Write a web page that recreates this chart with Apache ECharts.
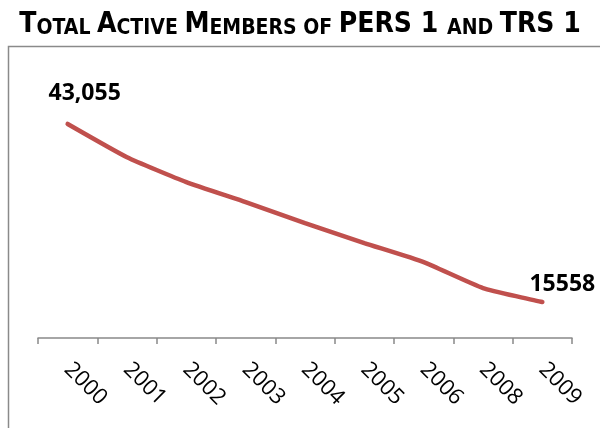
<!DOCTYPE html>
<html>
<head>
<meta charset="utf-8">
<script src="https://cdn.jsdelivr.net/npm/echarts@6/dist/echarts.min.js"></script>
<style>html,body{margin:0;padding:0;background:#fff}#c{width:600px;height:428px}</style>
</head>
<body>
<div id="c"></div>
<script>
var years = ['2000','2001','2002','2003','2004','2005','2006','2008','2009'];
var members = [43055, 37920, 34070, 30980, 27740, 24660, 21730, 17720, 15558];
var labelTexts = ['43,055', '15558'];

var chart = echarts.init(document.getElementById('c'));
var seriesData = members.map(function (v, i) {
  if (i === 0) {
    return {value: v, label: {show: true, formatter: labelTexts[0], offset: [17, -31]}};
  }
  if (i === members.length - 1) {
    return {value: v, label: {show: true, formatter: labelTexts[1], offset: [20, -18]}};
  }
  return v;
});

chart.setOption({
  animation: false,
  title: {
    left: 'center',
    top: 6,
    text: '{a|T}{b|OTAL }{a|A}{b|CTIVE }{a|M}{b|EMBERS OF }{a|PERS 1 }{b|AND }{a|TRS 1}',
    textStyle: {
      rich: {
        a: {fontFamily: '"Liberation Sans Narrow", "DejaVu Sans Condensed", sans-serif', fontWeight: 'bold', fontSize: 28, color: '#000', verticalAlign: 'bottom'},
        b: {fontFamily: '"Liberation Sans Narrow", "DejaVu Sans Condensed", sans-serif', fontWeight: 'bold', fontSize: 21, color: '#000', verticalAlign: 'bottom'}
      }
    }
  },
  graphic: [{
    type: 'polyline',
    shape: {points: [[8.5, 428], [8.5, 46.5], [600, 46.5]]},
    style: {stroke: '#8a8a8a', lineWidth: 1.5, fill: null},
    silent: true
  }],
  grid: {left: 38, right: 28, top: 79, bottom: 90},
  xAxis: {
    type: 'category',
    data: years,
    boundaryGap: true,
    axisLine: {lineStyle: {color: '#898989', width: 1.5}},
    axisTick: {show: true, length: 6, lineStyle: {color: '#898989', width: 1.5}},
    axisLabel: {rotate: -45, margin: 28, fontFamily: '"Open Sans", sans-serif', fontSize: 22, color: '#000', interval: 0}
  },
  yAxis: {
    type: 'value',
    min: 10000,
    max: 50000,
    show: false,
    splitLine: {show: false}
  },
  series: [{
    type: 'line',
    data: seriesData,
    smooth: 0.15,
    symbol: 'circle',
    symbolSize: 1,
    showSymbol: true,
    itemStyle: {color: 'rgba(0,0,0,0)'},
    lineStyle: {color: '#C0504D', width: 4.5, cap: 'round'},
    label: {
      show: false,
      position: 'inside',
      fontFamily: '"Open Sans", sans-serif',
      fontWeight: 'bold',
      fontSize: 23,
      color: '#000'
    }
  }]
});
</script>
</body>
</html>
